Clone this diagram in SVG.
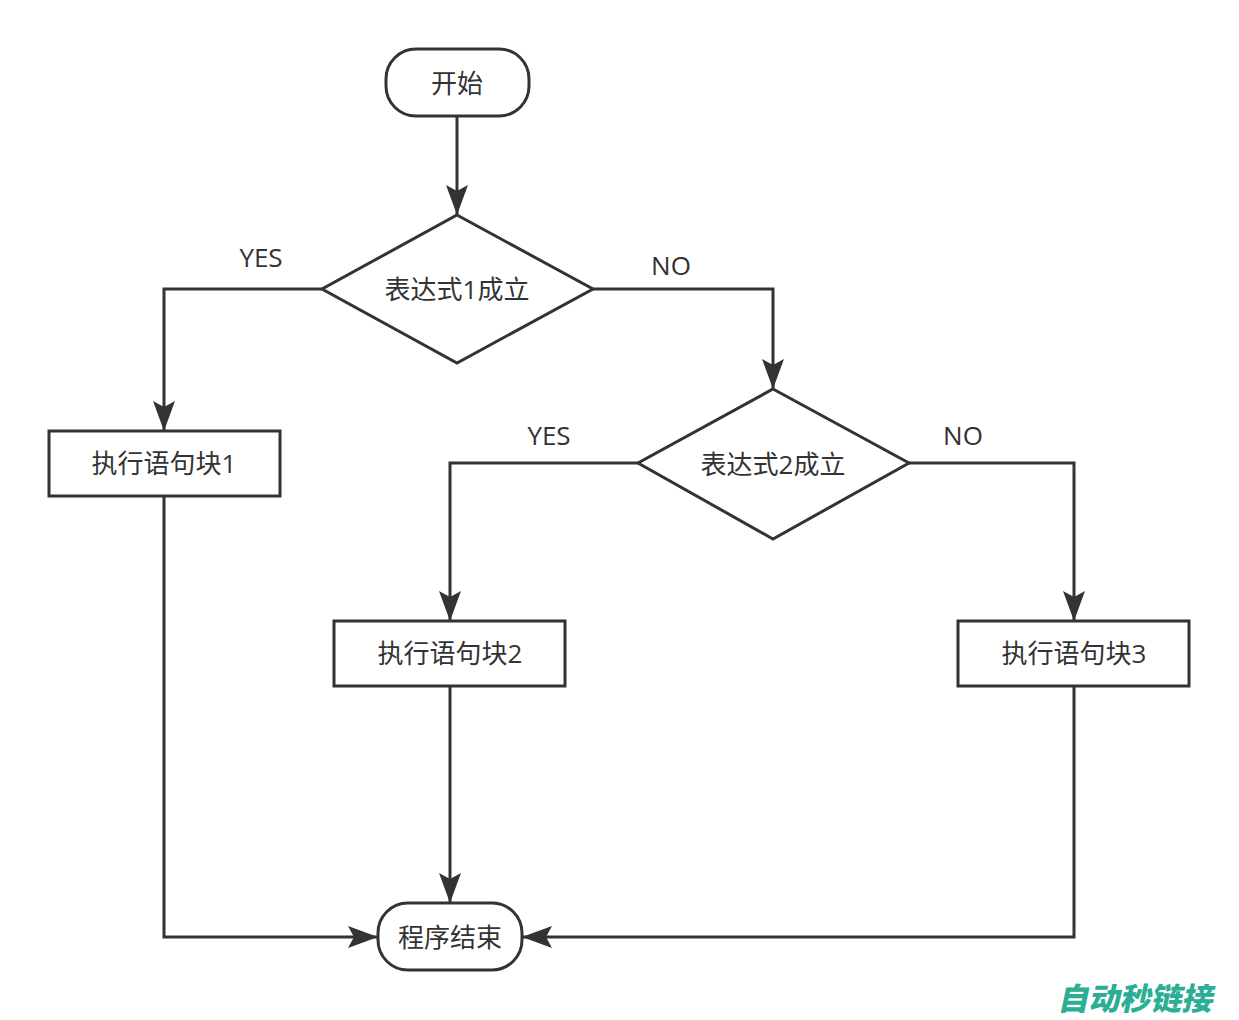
<svg xmlns="http://www.w3.org/2000/svg" width="1239" height="1020" viewBox="0 0 1239 1020">
<style>
.s{fill:#fff;stroke:#333;stroke-width:3}
.c{fill:none;stroke:#333;stroke-width:3}
.t{font-family:"Open Sans","Noto Sans CJK SC",sans-serif;font-size:26px;fill:#333;text-anchor:middle;dominant-baseline:central}
.wm{font-family:"Noto Sans CJK SC",sans-serif;font-size:31px;font-weight:900;fill:#2aae95}
</style>
<defs>
<marker id="a" viewBox="0 0 30 22" refX="30" refY="11" markerWidth="30" markerHeight="22" markerUnits="userSpaceOnUse" orient="auto">
<path d="M0,0 L30,11 L0,22 L6,11 Z" fill="#333"/>
</marker>
</defs>
<rect width="1239" height="1020" fill="#fff"/>
<g id="connectors">
<path class="c" d="M457,116 V215" marker-end="url(#a)"/>
<path class="c" d="M322,289 H164 V431" marker-end="url(#a)"/>
<path class="c" d="M593,289 H773 V389" marker-end="url(#a)"/>
<path class="c" d="M638,463 H450 V621" marker-end="url(#a)"/>
<path class="c" d="M909,463 H1074 V621" marker-end="url(#a)"/>
<path class="c" d="M164,496 V937 H378" marker-end="url(#a)"/>
<path class="c" d="M450,686 V903" marker-end="url(#a)"/>
<path class="c" d="M1074,686 V937 H522" marker-end="url(#a)"/>
<text class="t" x="261" y="257">YES</text>
<text class="t" x="671" y="265">NO</text>
<text class="t" x="549" y="435">YES</text>
<text class="t" x="963" y="435">NO</text>
</g>
<g id="start"><rect class="s" x="386" y="49" width="143" height="67" rx="30"/><text class="t" x="457" y="83">开始</text></g>
<g id="cond1"><path class="s" d="M457,215 L593,289 L457,363 L322,289 Z"/><text class="t" x="457" y="289">表达式1成立</text></g>
<g id="block1"><rect class="s" x="49" y="431" width="231" height="65"/><text class="t" x="164" y="463">执行语句块1</text></g>
<g id="cond2"><path class="s" d="M773,389 L909,463 L773,539 L638,463 Z"/><text class="t" x="773" y="464">表达式2成立</text></g>
<g id="block2"><rect class="s" x="334" y="621" width="231" height="65"/><text class="t" x="450" y="653">执行语句块2</text></g>
<g id="block3"><rect class="s" x="958" y="621" width="231" height="65"/><text class="t" x="1074" y="653">执行语句块3</text></g>
<g id="end"><rect class="s" x="378" y="903" width="144" height="67" rx="30"/><text class="t" x="450" y="937">程序结束</text></g>
<g id="watermark"><text class="wm" x="1058" y="1010" transform="skewX(-12) translate(214,0)">自动秒链接</text></g>
</svg>
